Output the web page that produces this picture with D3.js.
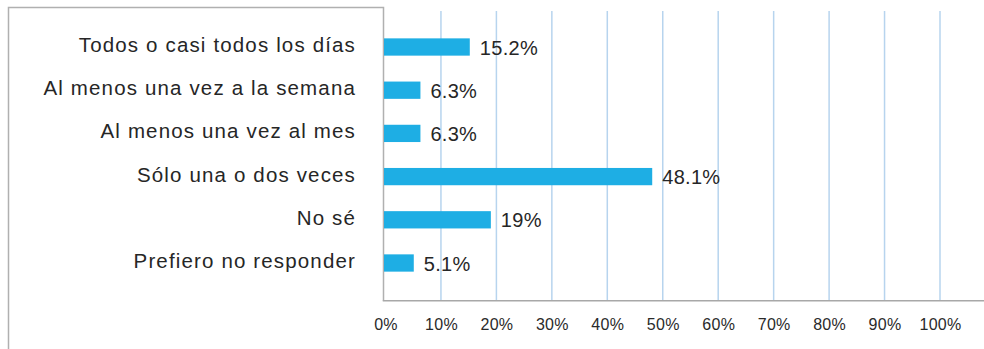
<!DOCTYPE html>
<html>
<head>
<meta charset="utf-8">
<script src="https://cdn.jsdelivr.net/npm/d3@7"></script>
<style>
  html, body { margin: 0; padding: 0; background: #fff; }
  svg { display: block; }
  text { font-family: "Liberation Sans", Arial, sans-serif; fill: #222; }
</style>
</head>
<body>
<svg id="chart" width="984" height="349"></svg>
<script>
// Frequency answers and their shares (%)
const categories = [
  "Todos o casi todos los días",
  "Al menos una vez a la semana",
  "Al menos una vez al mes",
  "Sólo una o dos veces",
  "No sé",
  "Prefiero no responder"
];
const values = [15.2, 6.3, 6.3, 48.1, 19, 5.1];
const valueLabels = ["15.2%", "6.3%", "6.3%", "48.1%", "19%", "5.1%"];
const tickValues = [0, 10, 20, 30, 40, 50, 60, 70, 80, 90, 100];
const tickLabels = ["0%", "10%", "20%", "30%", "40%", "50%", "60%", "70%", "80%", "90%", "100%"];

const svg = d3.select("#chart");

const axisX = 383.5;     // position of the category axis line
const plotTop = 11;
const plotBottom = 300.7;

const x = d3.scaleLinear().domain([0, 100]).range([385.5, 940]);
const y = d3.scaleBand()
  .domain(categories)
  .range([25.4, 284.6])
  .paddingInner(0.6)
  .paddingOuter(0.3);

// frame around the label area
svg.append("path")
  .attr("d", `M8.5,349 L8.5,7.5 L${axisX},7.5 L${axisX},${plotBottom}`)
  .attr("fill", "none")
  .attr("stroke", "#b0b0b0")
  .attr("stroke-width", 1.5);

// vertical gridlines
svg.append("g")
  .selectAll("line")
  .data(tickValues.slice(1))
  .join("line")
  .attr("x1", d => x(d)).attr("x2", d => x(d))
  .attr("y1", plotTop).attr("y2", plotBottom)
  .attr("stroke", "#b7d4ee")
  .attr("stroke-width", 1.5);

// bottom axis with percentage ticks
const xAxis = d3.axisBottom(x)
  .tickValues(tickValues)
  .tickSize(0)
  .tickPadding(0)
  .tickFormat((d, i) => tickLabels[i]);

const gx = svg.append("g")
  .attr("transform", `translate(0,${plotBottom})`)
  .call(xAxis);
gx.select(".domain").remove();
gx.selectAll("text")
  .attr("dy", null)
  .attr("y", 29.5)
  .style("font-size", "16px")
  .style("letter-spacing", "0.3px")
  .style("fill", "#2a2a2a");

svg.append("line")
  .attr("x1", axisX - 0.75).attr("x2", 984)
  .attr("y1", plotBottom).attr("y2", plotBottom)
  .attr("stroke", "#a8a8a8")
  .attr("stroke-width", 1.5);

// bars
svg.append("g")
  .selectAll("rect")
  .data(values)
  .join("rect")
  .attr("x", axisX + 0.5)
  .attr("y", (d, i) => y(categories[i]))
  .attr("width", d => x(d) - axisX - 0.5)
  .attr("height", y.bandwidth())
  .attr("fill", "#1eaee4");

// category labels
svg.append("g")
  .selectAll("text")
  .data(categories)
  .join("text")
  .attr("x", 356)
  .attr("y", d => y(d) + y.bandwidth() / 2 + 5)
  .attr("text-anchor", "end")
  .style("font-size", "20.5px")
  .style("letter-spacing", "1.15px")
  .style("fill", "#262626")
  .text(d => d);

// value labels
svg.append("g")
  .selectAll("text")
  .data(values)
  .join("text")
  .attr("x", d => x(d) + 10)
  .attr("y", (d, i) => y(categories[i]) + y.bandwidth() / 2 + 7.5)
  .style("font-size", "20px")
  .style("letter-spacing", "0.3px")
  .style("fill", "#262626")
  .text((d, i) => valueLabels[i]);
</script>
</body>
</html>
